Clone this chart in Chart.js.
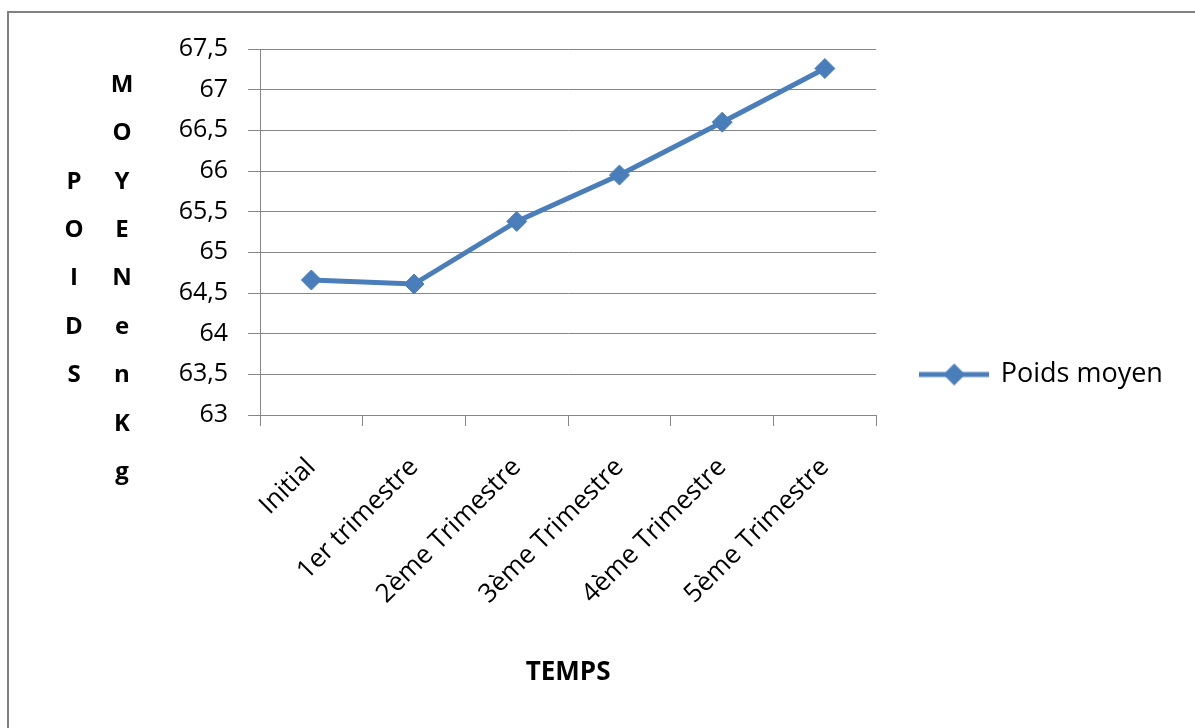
<!DOCTYPE html>
<html><head><meta charset="utf-8">
<script src="https://cdn.jsdelivr.net/npm/chart.js@4"></script>
<style>
html,body{margin:0;padding:0;background:#fff;overflow:hidden}
#frame{position:absolute;left:7px;top:11px;width:1400px;height:900px;border-left:2px solid #808080;border-top:2px solid #808080;box-sizing:border-box}
#wrap{position:absolute;left:0;top:0;width:1195px;height:728px}
</style></head><body>
<div id="frame"></div>
<div id="wrap"><canvas id="c" width="1195" height="728"></canvas></div>
<script>
const categories = ["Initial","1er trimestre","2ème Trimestre","3ème Trimestre","4ème Trimestre","5ème Trimestre"];
const poidsMoyen = [64.66, 64.61, 65.38, 65.95, 66.60, 67.26];
const seriesName = "Poids moyen";
const yMin = 63, yMax = 67.5, yStep = 0.5;
const xTitle = "TEMPS";
const yTitleColumns = ["POIDS", "MOYENenKg"];

const lineColor = '#4a7ebb';
const gridColor = '#868686';
Chart.defaults.font.family = '"Open Sans", sans-serif';
Chart.defaults.color = '#000';

function legendIcon(){
  const c = document.createElement('canvas');
  c.width = 70; c.height = 24;
  const g = c.getContext('2d');
  g.strokeStyle = lineColor; g.lineWidth = 5;
  g.beginPath(); g.moveTo(0,12); g.lineTo(70,12); g.stroke();
  g.fillStyle = lineColor;
  g.beginPath(); g.moveTo(35,1); g.lineTo(46,12); g.lineTo(35,23); g.lineTo(24,12); g.closePath(); g.fill();
  return c;
}
const icon = legendIcon();

const yTitlePlugin = {
  id: 'yTitleStack',
  afterDraw(chart){
    const ctx = chart.ctx;
    ctx.save();
    ctx.font = 'bold 24px "Open Sans", sans-serif';
    ctx.fillStyle = '#000';
    ctx.textAlign = 'center';
    ctx.textBaseline = 'middle';
    const rowH = 48.4, firstRowY = 85;
    const cols = [{x:74, text:yTitleColumns[0], startRow:2}, {x:122, text:yTitleColumns[1], startRow:0}];
    cols.forEach(col => {
      [...col.text].forEach((ch, i) => {
        ctx.fillText(ch, col.x, firstRowY + (col.startRow + i) * rowH);
      });
    });
    ctx.restore();
  }
};

const chart = new Chart(document.getElementById('c'), {
  type: 'line',
  data: {
    labels: categories,
    datasets: [{
      label: seriesName,
      data: poidsMoyen,
      borderColor: lineColor,
      backgroundColor: lineColor,
      borderWidth: 5,
      tension: 0,
      pointStyle: 'rectRot',
      pointRadius: 10,
      pointHoverRadius: 10,
      pointBackgroundColor: lineColor,
      pointBorderColor: lineColor,
      pointBorderWidth: 1
    }]
  },
  options: {
    responsive: false,
    animation: false,
    layout: { padding: { top: 49, left: 0, right: 0, bottom: 28 } },
    plugins: {
      tooltip: { enabled: false },
      legend: {
        position: 'right',
        labels: {
          usePointStyle: true,
          pointStyleWidth: 66,
          padding: 45,
          font: { size: 27 },
          color: '#000',
          generateLabels: () => [{
            text: seriesName, pointStyle: icon, fillStyle: lineColor,
            strokeStyle: lineColor, lineWidth: 0, datasetIndex: 0, hidden: false
          }]
        }
      }
    },
    scales: {
      x: {
        offset: true,
        grid: { offset: true, drawOnChartArea: false, drawTicks: true, tickLength: 11, color: gridColor },
        border: { color: gridColor, width: 1 },
        ticks: { minRotation: 45, maxRotation: 45, autoSkip: false, padding: 26, font: { size: 26 }, color: '#000' },
        title: { display: true, text: xTitle, font: { size: 26, weight: 'bold' }, color: '#000', padding: { top: 0, bottom: 12 } },
        afterFit(s){ s.height = 285; }
      },
      y: {
        min: yMin, max: yMax,
        ticks: { stepSize: yStep, padding: 20, font: { size: 25 }, color: '#000',
          callback: v => String(v).replace('.', ',') },
        grid: { color: gridColor, lineWidth: 1, tickLength: 12, drawTicks: true },
        border: { color: gridColor, width: 1 },
        afterFit(s){ s.width = 260; }
      }
    }
  },
  plugins: [yTitlePlugin]
});

const target = { top: 49, right: 876 };
for (let i = 0; i < 4; i++) {
  const a = chart.chartArea;
  const dr = a.right - target.right, dt = target.top - a.top;
  if (Math.abs(dr) < 0.5 && Math.abs(dt) < 0.5) break;
  chart.options.layout.padding.right += dr;
  chart.options.layout.padding.top += dt;
  chart.update();
}
</script>
</body></html>
